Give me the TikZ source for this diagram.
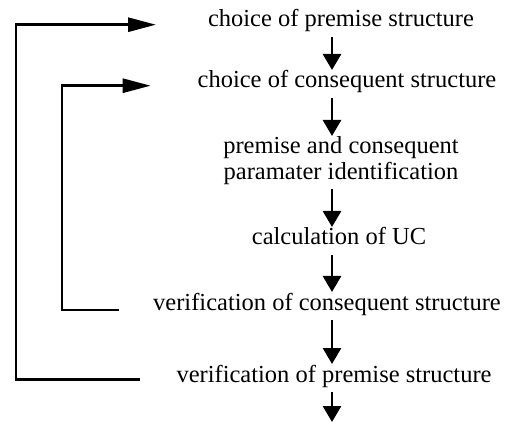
\documentclass[tikz,border=0pt]{standalone}
\usepackage{fontspec}
\setmainfont{Liberation Serif}
\usetikzlibrary{arrows.meta}

\begin{document}
\begin{tikzpicture}[x=1pt,y=-1pt,
        stage/.style={inner sep=0pt,outer sep=0pt,anchor=base,
            font=\fontsize{24.5}{26}\selectfont,text height=17pt,text depth=6pt},
        flow/.style={line width=2.8pt,-{Triangle[length=16pt,width=18pt]},
            shorten <=4pt,shorten >=1pt},
        back/.style={line width=2.8pt,-{Triangle[length=28pt,width=14pt]}}]
        \useasboundingbox (0,0) rectangle (516,427);

        \coordinate (axis)  at (332,0);
        \coordinate (outer) at (16,0);
        \coordinate (inner) at (62,0);
        \coordinate (end)   at (332,423);

        \node[stage] (cp) at (341,27)  {choice of premise structure};
        \node[stage] (cc) at (347,88)  {choice of consequent structure};
        \node[inner sep=0pt,outer sep=0pt,anchor=north,align=center,
              font=\fontsize{24.5}{26}\selectfont] (pi) at (341,137)
              {premise and consequent\\paramater identification};
        \node[stage] (uc) at (339,245) {calculation of UC};
        \node[stage] (vc) at (327,310) {verification of consequent structure};
        \node[stage] (vp) at (334,382) {verification of premise structure};

        \draw[flow] (cp.south -| axis) -- (cc.north -| axis);
        \draw[flow] (cc.south -| axis) -- (pi.north -| axis);
        \draw[flow] (pi.south -| axis) -- (uc.north -| axis);
        \draw[flow] (uc.south -| axis) -- (vc.north -| axis);
        \draw[flow] (vc.south -| axis) -- (vp.north -| axis);
        \draw[flow] (vp.south -| axis) -- (end);

        % feedback loops
        \draw[back,shorten <=37pt,shorten >=52pt]
            (vp.mid west) -- (vp.mid west -| outer) |- (cp.mid west);
        \draw[back,shorten <=34pt,shorten >=47pt]
            (vc.base west) -- (vc.base west -| inner) |- (cc.mid west);
    \end{tikzpicture}
\end{document}
